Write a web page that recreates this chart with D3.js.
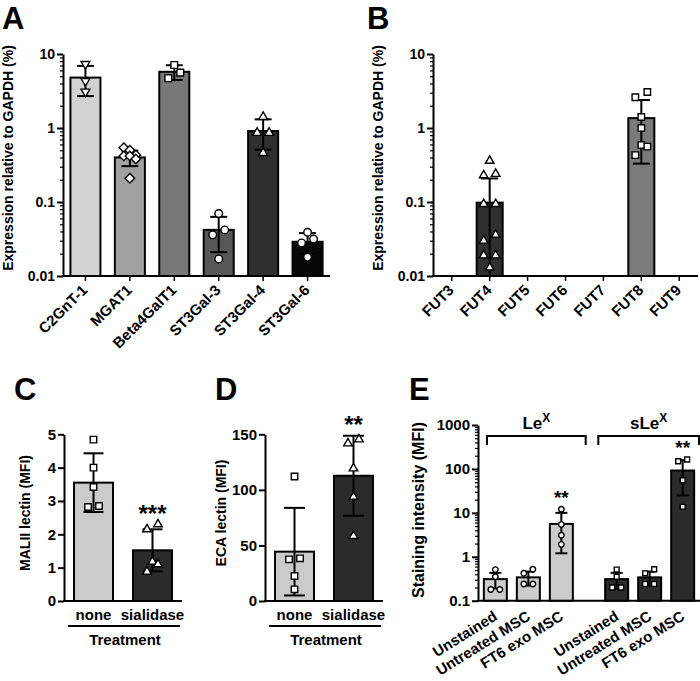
<!DOCTYPE html>
<html><head><meta charset="utf-8">
<script src="https://cdn.jsdelivr.net/npm/d3@7"></script>
<style>
body{margin:0;background:#fff;}
svg text{font-family:"Liberation Sans",Arial,Helvetica,sans-serif;font-weight:bold;fill:#000;}
</style></head><body>
<svg id="chart" width="700" height="681"></svg>
<script>
// ---------------- DATA ----------------
// Panel A
const aGenes = ["C2GnT-1","MGAT1","Beta4GalT1","ST3Gal-3","ST3Gal-4","ST3Gal-6"];
const aMeans = [4.8, 0.40, 5.75, 0.042, 0.91, 0.029];
const aSD = [2.1, 0.095, 1.3, 0.021, 0.40, 0.009];
const aPoints = [
  [7.3, 4.3, 3.1],
  [0.54, 0.50, 0.43, 0.42, 0.42, 0.38, 0.21],
  [7.1, 5.6, 4.7],
  [0.070, 0.042, 0.036, 0.017],
  [1.41, 0.86, 0.86, 0.46],
  [0.039, 0.0316, 0.028, 0.018]
];
const aColors = ["#d2d2d2","#a1a1a1","#787878","#575757","#2f2f2f","#070707"];
const aSymbols = ["triangleDown","diamond","square","circle","triangle","circle"];
const aTicks = [0.01, 0.1, 1, 10];

// Panel B
const bGenes = ["FUT3","FUT4","FUT5","FUT6","FUT7","FUT8","FUT9"];
const bMeans = [null, 0.098, null, null, null, 1.36, null];
const bSD = [null, 0.11, null, null, null, 1.03, null];
const bPoints = [
  [],
  [0.36, 0.24, 0.23, 0.094, 0.094, 0.036, 0.030, 0.019, 0.019, 0.013],
  [], [], [],
  [3.06, 2.6, 1.41, 1.0, 0.59, 0.56, 0.43],
  []
];
const bColors = [null, "#2f2f2f", null, null, null, "#7a7a7a", null];
const bSymbols = [null, "triangle", null, null, null, "square", null];
const bTicks = [0.01, 0.1, 1, 10];

// Panel C
const cGroups = ["none","sialidase"];
const cMeans = [3.55, 1.52];
const cSD = [0.88, 0.63];
const cPoints = [[4.84, 4.0, 3.42, 2.85, 2.82],[2.30, 2.15, 1.18, 1.10, 0.88]];
const cColors = ["#cbcbcb","#2b2b2b"];
const cSymbols = ["square","triangle"];
const cTicks = [0, 1, 2, 3, 4, 5];
const cSig = [null, "***"];

// Panel D
const dGroups = ["none","sialidase"];
const dMeans = [44.4, 112.7];
const dSD = [39.4, 36.0];
const dPoints = [[112, 38.4, 37.5, 22.5, 10.5],[145.4, 141.8, 119.3, 93.8, 58.5]];
const dColors = ["#cbcbcb","#2b2b2b"];
const dSymbols = ["square","triangle"];
const dTicks = [0, 50, 100, 150];
const dSig = [null, "**"];

// Panel E
const eGroups = ["LeX","sLeX"];
const eConditions = ["Unstained","Untreated MSC","FT6 exo MSC"];
const eMeansLeX = [0.31, 0.34, 5.6];
const eSDLeX = [0.12, 0.12, 4.4];
const ePointsLeX = [[0.51, 0.35, 0.18, 0.18],[0.52, 0.42, 0.24, 0.24],[12.1, 5.45, 3.1, 1.91]];
const eMeansSLeX = [0.31, 0.34, 92];
const eSDSLeX = [0.12, 0.12, 67];
const ePointsSLeX = [[0.51, 0.35, 0.20, 0.20],[0.52, 0.42, 0.24, 0.24],[163.7, 149.6, 55.3, 13.7]];
const eColors = ["#cbcbcb","#2b2b2b"];
const eSymbols = ["circle","square"];
const eTicks = [0.1, 1, 10, 100, 1000];
const eSig = [null, null, "**"];

// ---------------- DRAWING ----------------
const svg = d3.select("#chart");
const FONT = '"Liberation Sans",Arial,Helvetica,sans-serif';

const symMap = {
  square: [d3.symbolSquare, 0],
  circle: [d3.symbolCircle, 0],
  triangle: [d3.symbolTriangle, 0],
  triangleDown: [d3.symbolTriangle, 180],
  diamond: [d3.symbolSquare, 45]
};

function yAxis(y, x0, majors, fs, isLog) {
  const g = svg.append("g").attr("transform", `translate(${x0},0)`);
  if (isLog) {
    const minors = y.ticks().filter(t => !majors.some(m => Math.abs(m - t) / m < 1e-6));
    const mg = g.append("g").call(d3.axisLeft(y).tickValues(minors).tickSize(3).tickSizeOuter(0).tickFormat(""));
    mg.select(".domain").remove();
    mg.selectAll("line").attr("stroke", "#000").attr("stroke-width", 1.2);
  }
  const ax = g.append("g").call(d3.axisLeft(y).tickValues(majors).tickSize(6).tickSizeOuter(0)
    .tickPadding(2).tickFormat(d3.format("~g")));
  ax.select(".domain").attr("stroke", "#000").attr("stroke-width", 2);
  ax.selectAll(".tick line").attr("stroke", "#000").attr("stroke-width", 2);
  ax.selectAll(".tick text").attr("font-size", fs).attr("font-weight", "bold")
    .attr("font-family", FONT).attr("fill", "#000");
}

function xAxisLine(x0, x1, yPos) {
  svg.append("line").attr("x1", x0 - 1).attr("x2", x1).attr("y1", yPos).attr("y2", yPos)
    .attr("stroke", "#000").attr("stroke-width", 2);
}

function xTicks(x, yPos) {
  const g = svg.append("g").attr("transform", `translate(0,${yPos})`)
    .call(d3.axisBottom(x).tickSize(5).tickSizeOuter(0).tickFormat(""));
  g.select(".domain").remove();
  g.selectAll("line").attr("stroke", "#000").attr("stroke-width", 1.5);
}

// spread points horizontally when they overlap vertically
function spread(vals, y, minDist, step) {
  const items = vals.map(v => ({ v, py: y(v) })).sort((a, b) => a.py - b.py);
  const clusters = [];
  items.forEach(it => {
    const last = clusters[clusters.length - 1];
    if (last && it.py - last[last.length - 1].py < minDist) last.push(it);
    else clusters.push([it]);
  });
  const h = step / 2;
  clusters.forEach(cl => {
    const n = cl.length;
    if (n === 1) cl[0].dx = 0;
    else if (n === 2) { cl[0].dx = h; cl[1].dx = -h; }
    else if (n === 3) { cl[0].dx = 0; cl[1].dx = h; cl[2].dx = -h; }
    else cl.forEach((it, i) => it.dx = [-h, 0, h][i % 3]);
  });
  return items;
}

function bars(o) {
  const { cats, means, sds, pts, colors, symbols, x, y, capW, symSize, step, minDist, sig, sigSize } = o;
  const base = y.domain()[0];
  const y0 = y(base);
  const data = cats.map((c, i) => ({ c, m: means[i], sd: sds[i], p: pts[i], col: colors[i], sym: symbols[i], sig: sig ? sig[i] : null }))
    .filter(d => d.m != null);
  const g = svg.append("g");
  g.selectAll("rect").data(data).join("rect")
    .attr("x", d => x(d.c)).attr("width", x.bandwidth())
    .attr("y", d => y(d.m)).attr("height", d => y0 - y(d.m))
    .attr("fill", d => d.col).attr("stroke", "#000").attr("stroke-width", 2);
  data.forEach(d => {
    const cx = x(d.c) + x.bandwidth() / 2;
    const hi = d.m + d.sd, lo = d.m - d.sd;
    const loOk = lo > base;
    g.append("line").attr("x1", cx).attr("x2", cx).attr("y1", y(hi)).attr("y2", loOk ? y(lo) : y0)
      .attr("stroke", "#000").attr("stroke-width", 2);
    g.append("line").attr("x1", cx - capW / 2).attr("x2", cx + capW / 2).attr("y1", y(hi)).attr("y2", y(hi))
      .attr("stroke", "#000").attr("stroke-width", 2);
    if (loOk) g.append("line").attr("x1", cx - capW / 2).attr("x2", cx + capW / 2).attr("y1", y(lo)).attr("y2", y(lo))
      .attr("stroke", "#000").attr("stroke-width", 2);
    const placed = spread(d.p, y, minDist, step);
    const [stype, rot] = symMap[d.sym];
    g.selectAll(null).data(placed).join("path")
      .attr("transform", p => `translate(${cx + p.dx},${p.py}) rotate(${rot})`)
      .attr("d", d3.symbol(stype, stype === d3.symbolTriangle ? symSize * 0.75 : symSize))
      .attr("fill", "#fff").attr("stroke", "#000").attr("stroke-width", 1.4);
    if (d.sig) {
      const topY = Math.min(y(hi), ...placed.map(p => p.py));
      g.append("text").attr("x", cx).attr("y", topY - 16 + 0.57 * sigSize)
        .attr("text-anchor", "middle").attr("font-size", sigSize).text(d.sig);
    }
  });
}

function panelLetter(t, x, y) {
  svg.append("text").attr("x", x).attr("y", y).attr("font-size", 31).text(t);
}
function yTitle(t, x, y, fs) {
  svg.append("text").attr("transform", `translate(${x},${y}) rotate(-90)`)
    .attr("text-anchor", "middle").attr("font-size", fs).text(t);
}
function rotLabels(x, cats, yPos, angle, fs, dx) {
  svg.append("g").selectAll("text").data(cats).join("text")
    .attr("transform", c => `translate(${x(c) + x.bandwidth() / 2 + dx},${yPos}) rotate(${angle})`)
    .attr("text-anchor", "end").attr("font-size", fs).text(c => c);
}

// ---- Panel A ----
const aX = d3.scaleBand().domain(aGenes).range([63, 330]).paddingInner(0.324).paddingOuter(0.167);
const aY = d3.scaleLog().domain([0.01, 10]).range([276, 54]);
xAxisLine(63, 330, 276);
xTicks(aX, 276);
bars({ cats: aGenes, means: aMeans, sds: aSD, pts: aPoints, colors: aColors, symbols: aSymbols,
  x: aX, y: aY, capW: 17, symSize: 45, step: 12, minDist: 10 });
yAxis(aY, 63, aTicks, 14, true);
rotLabels(aX, aGenes, 291, -45, 15, 3);
yTitle("Expression relative to GAPDH (%)", 13, 158, 14);
panelLetter("A", 2, 28.5);

// ---- Panel B ----
const bX = d3.scaleBand().domain(bGenes).range([433, 698]).paddingInner(0.314).paddingOuter(0.152);
const bY = d3.scaleLog().domain([0.01, 10]).range([276, 54]);
xAxisLine(433, 698, 276);
xTicks(bX, 276);
bars({ cats: bGenes, means: bMeans, sds: bSD, pts: bPoints, colors: bColors, symbols: bSymbols,
  x: bX, y: bY, capW: 17, symSize: 42, step: 12, minDist: 10 });
yAxis(bY, 433, bTicks, 14, true);
rotLabels(bX, bGenes, 291, -45, 15, 3);
yTitle("Expression relative to GAPDH (%)", 383, 158, 14);
panelLetter("B", 367, 28.5);

// ---- Panel C ----
const cX = d3.scaleBand().domain(cGroups).range([64, 182]).paddingInner(0.339).paddingOuter(0.17);
const cY = d3.scaleLinear().domain([0, 5]).range([601, 434.3]);
xAxisLine(64, 182, 601);
bars({ cats: cGroups, means: cMeans, sds: cSD, pts: cPoints, colors: cColors, symbols: cSymbols,
  x: cX, y: cY, capW: 20, symSize: 42, step: 11, minDist: 8, sig: cSig, sigSize: 24 });
yAxis(cY, 64, cTicks, 15, false);
function treatment(x, x0, x1) {
  svg.append("g").selectAll("text").data(x.domain()).join("text")
    .attr("x", c => x(c) + x.bandwidth() / 2).attr("y", 620).attr("text-anchor", "middle")
    .attr("font-size", 15).text(c => c);
  svg.append("line").attr("x1", x0 + 4).attr("x2", x1 - 2).attr("y1", 626).attr("y2", 626)
    .attr("stroke", "#000").attr("stroke-width", 2);
  svg.append("text").attr("x", (x0 + x1) / 2 + 2).attr("y", 645).attr("text-anchor", "middle")
    .attr("font-size", 15).text("Treatment");
}
treatment(cX, 64, 182);
yTitle("MALII lectin (MFI)", 30, 513, 14);
panelLetter("C", 14, 400);

// ---- Panel D ----
const dX = d3.scaleBand().domain(dGroups).range([265, 383]).paddingInner(0.339).paddingOuter(0.17);
const dY = d3.scaleLinear().domain([0, 150]).range([601, 434.3]);
xAxisLine(265, 383, 601);
bars({ cats: dGroups, means: dMeans, sds: dSD, pts: dPoints, colors: dColors, symbols: dSymbols,
  x: dX, y: dY, capW: 21, symSize: 42, step: 11, minDist: 8, sig: dSig, sigSize: 24 });
yAxis(dY, 265, dTicks, 15, false);
treatment(dX, 265, 383);
yTitle("ECA lectin (MFI)", 226, 513, 14);
panelLetter("D", 215, 400);

// ---- Panel E ----
const eOuter = d3.scaleBand().domain(eGroups).range([478, 700]).paddingInner(0.17).paddingOuter(0);
const eInner = d3.scaleBand().domain(eConditions).range([0, eOuter.bandwidth()]).paddingInner(0.303).paddingOuter(0.177);
const eY = d3.scaleLog().domain([0.1, 1000]).range([600.7, 425]);
xAxisLine(478, 700, 600.7);
const eMeans = [eMeansLeX, eMeansSLeX], eSD = [eSDLeX, eSDSLeX], ePoints = [ePointsLeX, ePointsSLeX];
eGroups.forEach((grp, gi) => {
  const xg = c => eOuter(grp) + eInner(c);
  xg.bandwidth = () => eInner.bandwidth();
  bars({ cats: eConditions, means: eMeans[gi], sds: eSD[gi], pts: ePoints[gi],
    colors: eConditions.map(() => eColors[gi]), symbols: eConditions.map(() => eSymbols[gi]),
    x: xg, y: eY, capW: 12, symSize: 24, step: 9, minDist: 7, sig: eSig, sigSize: 19 });
  // labels
  svg.append("g").selectAll("text").data(eConditions).join("text")
    .attr("transform", c => `translate(${xg(c) + xg.bandwidth() / 2 + 3},${619}) rotate(-32)`)
    .attr("text-anchor", "end").attr("font-size", 15).text(c => c);
  // bracket
  const bx0 = eOuter(grp) + (gi === 0 ? 9 : -1);
  const bx1 = eOuter(grp) + eOuter.bandwidth() + (gi === 0 ? 7 : -1);
  svg.append("path").attr("d", `M${bx0},445V436H${bx1}V445`).attr("fill", "none")
    .attr("stroke", "#000").attr("stroke-width", 2);
  const t = svg.append("text").attr("x", (bx0 + bx1) / 2).attr("y", 429).attr("text-anchor", "middle")
    .attr("font-size", 17);
  t.append("tspan").text(grp.replace("X", ""));
  t.append("tspan").attr("font-size", 12).attr("dy", -7).text("X");
});
yAxis(eY, 478, eTicks, 15, true);
yTitle("Staining intensity (MFI)", 424, 510, 16);
panelLetter("E", 409, 400);
</script>
</body></html>
